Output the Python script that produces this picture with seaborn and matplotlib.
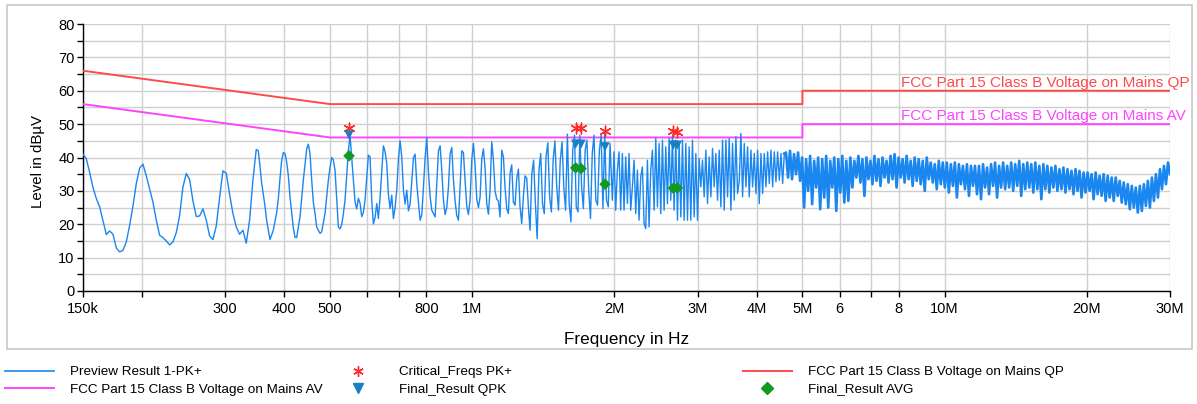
import numpy as np
import pandas as pd
import matplotlib
matplotlib.use("Agg")
import matplotlib.pyplot as plt
import seaborn as sns
from matplotlib.patches import Rectangle
from matplotlib.lines import Line2D

# preview scan (PK+) in pieces: (start MHz, stop MHz), levels in dBuV
seg_a_range = (0.150, 0.349)
seg_a = [41.0, 39.6, 35.5, 31.0, 27.7, 25.2, 21.0, 16.9, 18.0, 17.0,
         12.9, 11.7, 12.2, 14.7, 19.7, 25.5, 32.2, 36.8, 38.0, 34.5,
         30.5, 26.6, 21.2, 16.7, 16.0, 15.0, 13.8, 14.7, 17.5, 22.6,
         31.2, 35.2, 33.4, 27.0, 22.3, 22.5, 24.6, 21.2, 16.5, 15.4,
         19.5, 28.0, 36.0, 35.3, 29.0, 23.2, 19.2, 17.0, 18.2, 14.3,
         21.2, 33.2, 42.4]

seg_b_range = (0.3525, 0.8346)
seg_b = [42.0, 37.5, 32.4, 29.0, 25.5, 21.2, 18.3, 15.4, 16.8, 18.2,
         20.9, 23.5, 27.6, 33.6, 39.0, 41.5, 41.2, 38.7, 34.6, 28.2,
         23.6, 18.9, 16.1, 16.0, 19.1, 22.2, 27.7, 33.2, 37.8, 42.5,
         44.0, 41.2, 33.3, 26.6, 23.2, 19.2, 18.2, 17.3, 17.7, 20.5,
         23.2, 28.2, 33.2, 37.0, 40.0, 39.3, 36.2, 27.7, 19.2, 18.6,
         19.9, 23.1, 27.3, 34.5, 42.0, 46.5, 40.0, 33.9, 26.7, 24.6,
         27.8, 26.3, 22.3, 23.6, 27.2, 34.0, 40.7, 40.2, 27.2, 20.1,
         22.0, 26.2, 21.7, 28.0, 36.0, 43.5, 41.8, 38.2, 28.9, 24.7,
         28.7, 21.7, 25.0, 30.2, 39.5, 45.0, 40.2, 30.2, 26.0, 30.2,
         24.0, 26.0, 32.7, 40.0, 41.0, 32.2, 26.5, 21.2, 22.8, 31.0,
         40.0, 46.0, 35.5, 28.4, 24.2, 23.2, 22.2]

seg_c_range = (0.8414, 1.3150)
seg_c = [32.0, 42.0, 43.5, 36.2, 27.2, 22.9, 25.0, 31.2, 41.0, 43.0,
         33.2, 27.0, 22.6, 21.2, 31.2, 42.0, 41.5, 33.0, 25.5, 22.9,
         27.4, 39.2, 44.2, 37.5, 27.5, 25.0, 28.2, 39.5, 42.6, 36.8,
         26.2, 23.0, 30.5, 44.7, 39.2, 29.9, 27.5, 27.0, 22.2, 42.2,
         40.2, 31.0, 24.6, 23.2, 35.4, 37.8, 26.6, 25.7, 33.7, 36.5,
         25.2, 20.2, 28.5, 34.5, 33.8, 25.2]

seg_d_range = (1.3257, 1.9577)
seg_d = [18.2, 35.2, 39.2, 26.2, 15.7, 36.2, 41.2, 26.2, 23.2, 40.2,
         44.4, 28.2, 23.7, 39.2, 45.0, 31.2, 24.2, 39.2, 44.7, 31.2,
         24.2, 47.0, 26.2, 20.7, 42.2, 46.7, 25.2, 23.7, 46.7, 31.2,
         24.7, 42.2, 45.2, 30.2, 21.7, 41.2, 46.7, 27.2, 25.7, 42.2,
         46.7, 24.7, 47.2, 27.2, 25.2, 44.2]

seg_e_range = (1.980, 4.578)
seg_e = [27.2, 41.7, 24.2, 36.2, 41.7, 24.2, 41.2, 24.2, 40.2, 26.2,
         41.2, 24.2, 31.2, 39.2, 23.2, 36.2, 21.2, 34.2, 37.2, 20.2,
         18.7, 39.2, 19.2, 36.2, 42.2, 24.2, 45.7, 25.2, 44.2, 23.2,
         45.2, 24.2, 43.2, 26.2, 45.7, 27.2, 46.2, 24.2, 45.2, 21.2,
         44.2, 22.2, 45.2, 21.2, 44.2, 21.2, 43.2, 21.2, 45.2, 22.2,
         41.2, 21.2, 39.7, 31.2, 39.2, 28.2, 42.2, 26.2, 40.2, 28.2,
         42.7, 31.2, 41.2, 27.2, 42.2, 25.2, 45.2, 24.2, 45.2, 28.2,
         45.7, 24.2, 44.2, 27.2, 46.2, 29.2, 33.0, 47.2, 28.2, 44.2,
         31.2, 43.2, 28.2, 42.2, 31.2, 41.2, 29.2, 42.2, 26.2, 41.2,
         29.2, 41.2, 31.2, 41.7, 32.2, 42.2, 31.2, 41.7, 32.7, 41.7,
         33.2, 41.2, 32.2, 41.2]

seg_f_range = (4.616, 30.0)
seg_f = [41.5, 34.0, 42.0, 33.5, 41.0, 35.0, 41.5, 33.0, 40.0, 25.0, 39.5, 30.0, 40.5, 26.0, 39.0, 31.0,
         40.0, 24.5, 39.5, 28.0, 40.5, 25.0, 39.0, 31.0, 40.0, 24.0, 39.5, 29.5, 40.5, 26.5, 39.0, 27.0,
         40.0, 31.0, 39.0, 34.0, 40.5, 32.5, 39.5, 28.5, 40.0, 33.5, 39.0, 32.0, 40.5, 33.0, 39.5, 31.5,
         40.0, 34.0, 39.0, 32.5, 40.5, 33.5, 41.0, 31.0, 40.0, 34.0, 39.5, 32.5, 40.5, 33.5, 39.0, 31.5,
         40.0, 33.0, 39.5, 32.0, 39.0, 30.0, 40.0, 33.5, 38.5, 32.5, 38.0, 30.5, 39.0, 32.0, 38.5, 31.0,
         38.5, 29.5, 38.0, 31.5, 38.5, 28.0, 38.0, 32.0, 37.5, 30.5, 38.0, 28.5, 37.5, 31.5, 37.5, 29.0,
         37.5, 27.5, 38.0, 31.0, 37.0, 29.0, 38.0, 31.5, 38.5, 28.0, 37.5, 31.0, 38.5, 30.5, 37.5, 31.0,
         38.5, 30.0, 38.0, 31.5, 39.0, 28.5, 38.0, 30.5, 38.5, 31.0, 38.0, 29.5, 38.5, 30.5, 37.5, 27.5,
         38.0, 30.5, 37.5, 29.5, 37.0, 31.0, 37.5, 30.0, 36.5, 30.5, 37.0, 29.5, 36.5, 30.5, 36.0, 29.0,
         36.5, 30.0, 36.0, 28.0, 35.5, 29.5, 35.5, 30.0, 35.0, 27.5, 35.5, 29.0, 34.5, 28.5, 35.0, 27.0,
         34.5, 28.0, 34.0, 27.0, 34.0, 28.5, 33.0, 26.5, 32.5, 26.0, 32.0, 24.5, 31.5, 25.0, 31.0, 23.5,
         31.5, 24.0, 32.0, 25.5, 33.0, 25.0, 34.0, 27.0, 35.0, 28.0, 36.5, 30.5, 37.5, 32.0, 38.5, 35.0]

# FCC Part 15 class B limits
limit_freqs = [0.15, 0.5, 5.0, 5.0, 30.0]
qp_limit = [66, 56, 56, 60, 60]
av_limit = [56, 46, 46, 50, 50]

# final measurements
crit_freqs = [0.5486, 1.656, 1.700, 1.911, 2.665, 2.718]
crit_pk = [48.9, 48.7, 48.7, 47.9, 47.9, 47.7]
final_qpk = [46.7, 44.0, 44.0, 43.2, 43.7, 43.7]
final_avg = [40.5, 36.9, 36.7, 32.0, 30.8, 30.9]

tick_freqs = [0.15, 0.2, 0.3, 0.4, 0.5, 0.6, 0.7, 0.8, 1, 2, 3, 4, 5, 6, 7, 8, 10, 20, 30]
tick_labels = ["150k", "", "300", "400", "500", "", "", "800", "1M", "2M", "3M", "4M",
               "5M", "6", "", "8", "10M", "20M", "30M"]


def scan_frame(segs):
    return pd.DataFrame({
        "freq": np.concatenate([np.geomspace(r[0], r[1], len(v)) for r, v in segs]) * 1e6,
        "level": np.concatenate([np.array(v, dtype=float) for r, v in segs]),
    })


# low part is drawn thin, the dense band above 4.5 MHz a bit heavier so it reads as solid
scan_low = scan_frame([(seg_a_range, seg_a), (seg_b_range, seg_b), (seg_c_range, seg_c),
                       (seg_d_range, seg_d), (seg_e_range, seg_e)])
scan_high = pd.concat([scan_low.tail(1), scan_frame([(seg_f_range, seg_f)])])
limits = pd.DataFrame({"freq": np.array(limit_freqs) * 1e6, "qp": qp_limit, "av": av_limit})
finals = pd.DataFrame({"freq": np.array(crit_freqs) * 1e6, "pk": crit_pk,
                       "qpk": final_qpk, "avg": final_avg})

plt.rcParams["font.family"] = ["Liberation Sans", "DejaVu Sans"]

c_trace = "#1a86f0"
c_qp = "#ff4a4a"
c_av = "#ff44ff"
c_crit = "#ff2a2a"
c_qpk = "#1a7fc0"
c_avg = "#109a22"

fig = plt.figure(figsize=(11.97, 4.04), dpi=100)
ax = fig.add_axes([83 / 1197, 1 - 291 / 404, 1087 / 1197, 267 / 404])

sns.lineplot(data=limits, x="freq", y="qp", ax=ax, color=c_qp, lw=1.4,
             estimator=None, sort=False, zorder=3)
sns.lineplot(data=limits, x="freq", y="av", ax=ax, color=c_av, lw=1.4,
             estimator=None, sort=False, zorder=3)
sns.lineplot(data=scan_low, x="freq", y="level", ax=ax, color=c_trace, lw=1.0,
             estimator=None, sort=False, zorder=4)
sns.lineplot(data=scan_high, x="freq", y="level", ax=ax, color=c_trace, lw=1.9,
             estimator=None, sort=False, zorder=4)
sns.scatterplot(data=finals, x="freq", y="pk", ax=ax, marker=(6, 2, 0), s=60,
                color=c_crit, linewidth=1.0, zorder=6)
sns.scatterplot(data=finals, x="freq", y="qpk", ax=ax, marker="v", s=45,
                color=c_qpk, edgecolor="none", zorder=6)
sns.scatterplot(data=finals, x="freq", y="avg", ax=ax, marker="D", s=35,
                color=c_avg, edgecolor="none", zorder=6)

ax.set_xscale("log")
ax.set_xlim(150e3, 30e6)
ax.set_ylim(0, 80)
ax.set_xticks(np.array(tick_freqs) * 1e6)
ax.set_xticklabels(tick_labels)
ax.xaxis.set_minor_locator(matplotlib.ticker.NullLocator())
ax.set_yticks(range(0, 81, 10))
ax.set_yticks(range(5, 80, 10), minor=True)
ax.tick_params(axis="both", which="both", direction="out", length=4, width=1,
               labelsize=10.5, color="black")
ax.tick_params(axis="x", pad=4)
ax.tick_params(axis="y", pad=2)
ax.grid(True, which="both", color="#cfcfcf", lw=1.0)
ax.set_axisbelow(True)
for s in ["top", "right"]:
    ax.spines[s].set_visible(False)
for s in ["left", "bottom"]:
    ax.spines[s].set_color("black")
    ax.spines[s].set_linewidth(1.0)

ax.set_xlabel("Frequency in Hz", fontsize=12.3)
ax.set_ylabel("Level in dBµV", fontsize=10.8)
ax.xaxis.set_label_coords(0.5, -0.153)
ax.yaxis.set_label_coords(-0.035, 0.485)

ax.text(8.07e6, 60.2, "FCC Part 15 Class B Voltage on Mains QP", color=c_qp,
        fontsize=11, va="bottom", ha="left", clip_on=False)
ax.text(8.07e6, 50.2, "FCC Part 15 Class B Voltage on Mains AV", color=c_av,
        fontsize=11, va="bottom", ha="left", clip_on=False)

# outer frame around the whole chart
fig.add_artist(Rectangle((7 / 1197, 1 - 349 / 404), 1185 / 1197, 344 / 404,
                         transform=fig.transFigure, fill=False, ec="#c8c8c8", lw=1.2))

h_trace = Line2D([], [], color=c_trace, lw=1.2)
h_av = Line2D([], [], color=c_av, lw=1.4)
h_qp = Line2D([], [], color=c_qp, lw=1.4)
h_crit = Line2D([], [], ls="none", marker=(6, 2, 0), color=c_crit, ms=7.5, mew=1)
h_qpk = Line2D([], [], ls="none", marker="v", color=c_qpk, ms=7)
h_avg = Line2D([], [], ls="none", marker="D", color=c_avg, ms=6)

leg_kw = dict(loc="upper left", frameon=False, handlelength=3.6, handletextpad=1.2,
              labelspacing=0.35, fontsize=9.7, borderpad=0, borderaxespad=0)
fig.legend(handles=[h_trace, h_av], labels=["Preview Result 1-PK+",
           "FCC Part 15 Class B Voltage on Mains AV"],
           bbox_to_anchor=(5 / 1197, 1 - 366 / 404), **leg_kw)
fig.legend(handles=[h_crit, h_qpk], labels=["Critical_Freqs PK+", "Final_Result QPK"],
           bbox_to_anchor=(334 / 1197, 1 - 366 / 404), **leg_kw)
fig.legend(handles=[h_qp, h_avg], labels=["FCC Part 15 Class B Voltage on Mains QP",
           "Final_Result AVG"],
           bbox_to_anchor=(743 / 1197, 1 - 366 / 404), **leg_kw)

fig.savefig("out.png", dpi=100)
